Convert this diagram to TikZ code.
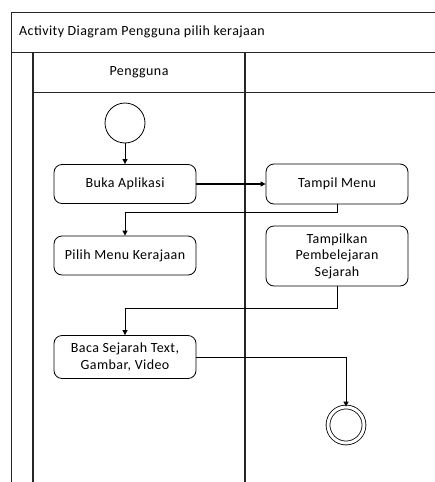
\documentclass[tikz,border=0pt]{standalone}
\usepackage{fontspec}
\setmainfont[LetterSpace=3]{Carlito}
\usetikzlibrary{arrows.meta}
\begin{document}
\begin{tikzpicture}[x=1pt,y=-1pt,
  every node/.style={font=\fontsize{14}{16.5}\selectfont, inner sep=0pt},
  frame/.style={line width=0.9pt, draw=black!85},
  lane/.style={line width=1.3pt, draw=black!85},
  action/.style={draw, line width=0.8pt, rounded corners=8pt, minimum width=142pt, align=center},
  flow/.style={line width=0.8pt, -{Triangle[length=5pt,width=5pt]}},
  mainflow/.style={line width=1.8pt, -{Triangle[length=5pt,width=5pt]}}]
\useasboundingbox (0,0) rectangle (435,482);
\begin{scope}
\clip (0,0) rectangle (435,482);
% outer frame and title band
\draw[frame] (11,482) -- (11,12) -- (445,12);
\draw[frame] (11,52) -- (445,52);
\node[anchor=west] (title) at (19,32) {Activity Diagram Pengguna pilih kerajaan};
% swimlanes
\draw[lane] (33,482) -- (33,52);
\draw[lane] (245,482) -- (245,52);
\draw[frame] (33,92) -- (445,92);
\node (lanename) at (139,72) {Pengguna};
\end{scope}
% states and actions
\node[draw, circle, line width=0.8pt, minimum size=40pt] (start) at (125,123) {};
\node[action, minimum height=39pt] (ba) at (125,184) {Buka Aplikasi};
\node[action, minimum height=40pt] (tm) at (337,184) {Tampil Menu};
\node[action, minimum height=39pt] (pm) at (125,255.5) {Pilih Menu Kerajaan};
\node[action, minimum height=60pt] (tp) at (337,256) {Tampilkan\\Pembelejaran\\Sejarah};
\node[action, minimum height=43pt] (bs) at (125,357) {Baca Sejarah Text,\\Gambar, Video};
\node[draw, circle, line width=0.8pt, double, double distance=3pt, minimum size=36pt] (end) at (346,425) {};
% control flows
\draw[flow] (start) -- (ba);
\draw[mainflow] (ba) -- (tm);
\draw[flow] (tm.south) -- ++(0,8) -| (pm.north);
\draw[flow] (tp.south) -- ++(0,22) -| (bs.north);
\draw[flow] (bs.east) -| (end.north);
\end{tikzpicture}
\end{document}
